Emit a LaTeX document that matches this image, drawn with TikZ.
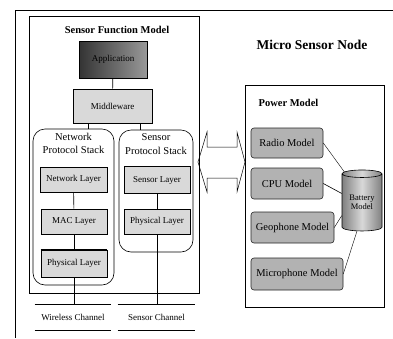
\documentclass[tikz,border=0pt]{standalone}
\usepackage{fontspec}
\setmainfont{Liberation Serif}
\usetikzlibrary{positioning,shapes.geometric}

\tikzset{
  sz/.style={font=\fontsize{#1}{#1}\selectfont},
  layer/.style={draw, fill=black!15, sz=9, inner sep=1pt},
  stack/.style={draw, rounded corners=12pt},
  stacktitle/.style={sz=10.5, align=center, inner sep=1pt},
  part/.style={draw=black!85, fill=black!30, rounded corners=3pt, sz=10.5, inner sep=1pt},
  chan/.style={sz=9, minimum height=25, inner sep=0pt}
}

\begin{document}
\begin{tikzpicture}[x=1pt,y=-1pt,line width=0.6pt]
      \useasboundingbox[fill=white] (0,0) rectangle (393,338);
      \draw[line width=0.8pt] (393,10) -- (15,10) -- (15,338);
      %% Sensor function model
      \node[draw, line width=0.8pt, minimum width=170, minimum height=277] (sfm) at (114,154.5) {};
      \node[font=\bfseries\fontsize{10.5}{12}\selectfont] (sfmt) at (117,30) {Sensor Function Model};
      \node[draw, left color=black!80, right color=black!40, minimum width=68, minimum height=37, sz=9] (app) at (113,59.5) {Application};
      \node[layer, minimum width=79, minimum height=34] (mw) at (112.5,106) {Middleware};
      \node[stack, minimum width=81, minimum height=156] (nps) at (73.5,207) {};
      \node[stack, minimum width=74, minimum height=122] (sps) at (156,191) {};
      \node[stacktitle, below=3pt of nps.north] {Network\\[3pt]Protocol Stack};
      \node[stacktitle, below=3pt of sps.north] {Sensor\\[3pt]Protocol Stack};
      \node[layer, minimum width=67, minimum height=25] (netl) at (73.5,179.5) {Network Layer};
      \node[layer, minimum width=66, minimum height=25] (mac) at (74,221.5) {MAC Layer};
      \node[layer, minimum width=66, minimum height=27] (phyn) at (74,263.5) {Physical Layer};
      \node[layer, minimum width=66, minimum height=27] (senl) at (157,180) {Sensor Layer};
      \node[layer, minimum width=66, minimum height=25] (phys) at (157,221.5) {Physical Layer};
      \draw[line width=1.2pt] (phyn.north west) -- (phyn.north east);
      %% Channels
      \node[chan, minimum width=76] (wch) at (73,317.5) {Wireless Channel};
      \node[chan, minimum width=77] (sch) at (156.5,317.5) {Sensor Channel};
      \foreach \c in {wch,sch}
        \draw (\c.north west) -- (\c.north east) (\c.south west) -- (\c.south east);
      %% Vertical links
      \draw (app) -- (mw);
      \draw ([xshift=-24.5pt]mw.south) -- ([xshift=-24.5pt]mw.south |- nps.north);
      \draw ([xshift=27.5pt]mw.south) -- ([xshift=27.5pt]mw.south |- sps.north);
      \draw (netl) -- (mac);
      \draw[line width=1pt] (mac) -- (phyn);
      \draw (phyn.south) -- (phyn.south |- wch.north);
      \draw[line width=1pt] (senl) -- (phys);
      \draw (phys.south) -- (phys.south |- sch.north);
      %% Micro sensor node
      \node[font=\bfseries\fontsize{13.5}{15}\selectfont] (msn) at (312,45) {Micro Sensor Node};
      \node[draw, line width=0.9pt, minimum width=139, minimum height=222] (pm) at (314.5,196) {};
      \node[font=\bfseries\fontsize{10.5}{12}\selectfont, anchor=west] (pmt) at (255,103) {Power Model};
      \node[part, minimum width=72, minimum height=30] (radio) at (287,143) {Radio Model};
      \node[part, minimum width=72, minimum height=31] (cpu) at (287,183.5) {CPU Model};
      \node[part, minimum width=83, minimum height=31] (geo) at (292.5,227.5) {Geophone Model};
      \node[part, minimum width=92, minimum height=32] (mic) at (297,274) {Microphone Model};
      \node[cylinder, shape border rotate=90, aspect=0.3, draw, minimum width=40, minimum height=61,
            left color=black!50, right color=black!50, middle color=black!15,
            align=center, sz=8.5, inner sep=0pt] (bat) at (362,202.5) {Battery\\Model};
      %% Battery links
      \draw[line width=0.4pt] (radio.east) -- (bat.120);
      \draw (cpu.east) -- (bat.156);
      \draw[line width=0.4pt] (geo.east) -- (bat.213);
      \draw[line width=0.4pt] (mic.east) -- (bat.260);
      %% Double arrow between the two models
      \draw[line width=0.5pt] (198,162) -- (207,132) -- (207,147) -- (237,147) -- (237,132) -- (245,162)
        -- (237,192) -- (237,178) -- (207,178) -- (207,192) -- cycle;
\end{tikzpicture}
\end{document}
